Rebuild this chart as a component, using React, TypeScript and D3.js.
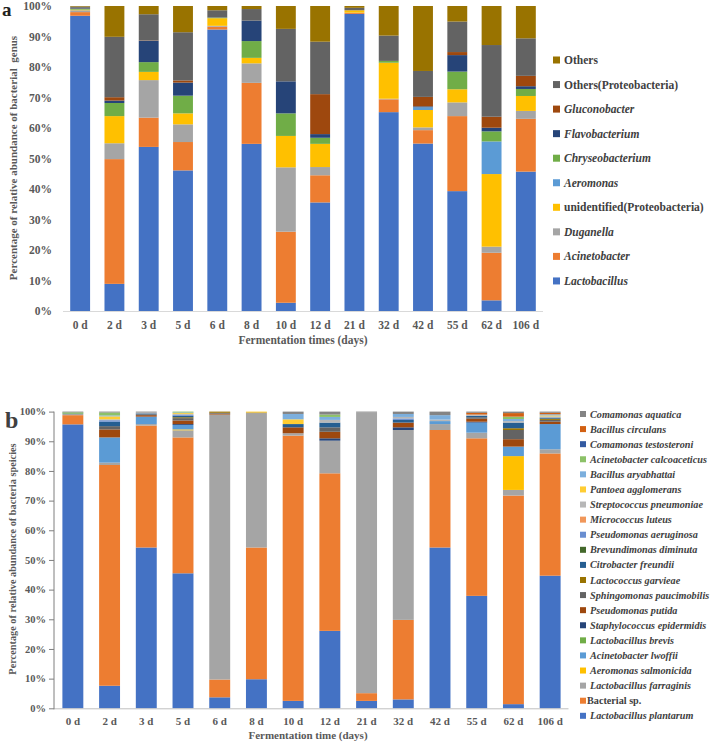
import React from "react";
import * as d3 from "d3";

const days = ["0 d", "2 d", "3 d", "5 d", "6 d", "8 d", "10 d", "12 d", "21 d", "32 d", "42 d", "55 d", "62 d", "106 d"];
const yTicks = [0, 10, 20, 30, 40, 50, 60, 70, 80, 90, 100];

// Panel a: genus level (bottom to top)
const genusNames = ["Lactobacillus", "Acinetobacter", "Duganella", "unidentified(Proteobacteria)", "Aeromonas", "Chryseobacterium", "Flavobacterium", "Gluconobacter", "Others(Proteobacteria)", "Others"];
const genusItalic = [true, true, true, false, true, true, true, true, false, false];
const genusColors = ["#4472C4", "#ED7D31", "#A5A5A5", "#FFC000", "#5B9BD5", "#70AD47", "#264478", "#9E480E", "#636363", "#997300"];
const gLactobacillus = [96.8, 8.9, 53.8, 46.1, 92.3, 54.8, 2.7, 35.6, 97.4, 65.2, 54.9, 39.3, 3.5, 45.7];
const gAcinetobacter = [1.2, 40.9, 9.6, 9.3, 0.9, 20.0, 23.3, 8.9, 0.3, 4.2, 4.4, 24.6, 15.6, 17.3];
const gDuganella = [0.6, 5.2, 12.3, 5.8, 0.3, 6.4, 21.1, 2.7, 0.1, 0.2, 0.9, 4.5, 2.0, 2.6];
const gUnidentified = [0.2, 8.9, 2.7, 3.6, 2.5, 1.8, 10.3, 7.6, 0.8, 11.8, 5.7, 4.3, 23.8, 4.9];
const gAeromonas = [0, 0, 0, 0, 0, 0, 0, 0, 0, 0, 0.9, 0, 10.7, 0];
const gChryseobacterium = [0.3, 4.3, 3.2, 5.8, 0.2, 5.5, 7.4, 2.0, 0, 0.6, 0, 5.8, 3.3, 2.3];
const gFlavobacterium = [0.2, 0.8, 7.0, 4.3, 0, 6.7, 10.5, 1.2, 0, 0, 0.3, 5.4, 1.2, 0.9];
const gGluconobacter = [0.1, 1.1, 0.1, 0.7, 0, 0, 0, 13.1, 0, 0, 3.1, 1.0, 3.6, 3.4];
const gOthersProteo = [0.4, 19.8, 8.6, 15.8, 2.4, 3.8, 17.2, 17.2, 0.8, 8.3, 8.5, 10.0, 23.5, 12.3];
const gOthers = [0.2, 10.1, 2.7, 8.6, 1.4, 1.0, 7.5, 11.7, 0.6, 9.7, 21.3, 5.1, 12.8, 10.6];
const genusSeries = [gLactobacillus, gAcinetobacter, gDuganella, gUnidentified, gAeromonas, gChryseobacterium, gFlavobacterium, gGluconobacter, gOthersProteo, gOthers];

// Panel b: species level (bottom to top)
const speciesNames = ["Lactobacillus plantarum", "Bacterial sp.", "Lactobacillus farraginis", "Aeromonas salmonicida", "Acinetobacter lwoffii", "Lactobacillus brevis", "Staphylococcus epidermidis", "Pseudomonas putida", "Sphingomonas paucimobilis", "Lactococcus garvieae", "Citrobacter freundii", "Brevundimonas diminuta", "Pseudomonas aeruginosa", "Micrococcus luteus", "Streptococcus pneumoniae", "Pantoea agglomerans", "Bacillus aryabhattai", "Acinetobacter calcoaceticus", "Comamonas testosteroni", "Bacillus circulans", "Comamonas aquatica"];
const speciesColors = ["#4472C4", "#ED7D31", "#A5A5A5", "#FFC000", "#5B9BD5", "#70AD47", "#264478", "#9E480E", "#636363", "#997300", "#255E91", "#43682B", "#698ED0", "#F1975A", "#B7B7B7", "#FFCD33", "#7CAFDD", "#8CC168", "#335AA1", "#D26012", "#848484"];
const sPlantarum = [95.7, 7.6, 54.2, 45.5, 3.7, 9.8, 2.5, 26.1, 2.5, 3.0, 54.2, 37.9, 1.4, 44.7];
const sBacterial = [3.1, 74.4, 41.1, 45.8, 6.0, 44.4, 89.4, 53.1, 2.6, 26.8, 39.6, 53.1, 70.3, 41.2];
const sFarraginis = [0.4, 0.8, 0.5, 2.4, 89.3, 45.3, 0.8, 11.0, 94.6, 64.0, 2.0, 1.9, 1.9, 1.4];
const sSalmonicida = [0, 0, 0, 0.3, 0, 0, 0, 0, 0, 0, 0, 0, 11.4, 0];
const sLwoffii = [0.1, 8.5, 2.5, 1.5, 0, 0, 0, 0, 0, 0, 1.0, 3.4, 3.2, 8.5];
const sBrevis = [0.3, 0, 0, 0, 0, 0, 0, 0, 0, 0, 0, 0, 0, 0];
const sStaph = [0, 0, 0, 0.3, 0, 0, 0, 0.8, 0, 0.9, 0, 0.3, 0, 0];
const sPutida = [0, 2.7, 0.5, 1.2, 0.3, 0, 2.0, 2.2, 0, 1.6, 0, 1.0, 2.5, 0.8];
const sSphingo = [0, 1.1, 0.3, 0.8, 0.3, 0, 0, 1.5, 0, 0, 0, 0.5, 3.1, 0.6];
const sLactococcus = [0, 0, 0, 0.3, 0.4, 0.2, 0, 0, 0, 0, 0, 0, 0.6, 0.4];
const sCitrobacter = [0, 1.5, 0.3, 0.5, 0, 0, 1.1, 1.6, 0, 0.9, 0, 0.5, 1.9, 0.4];
const sBrevundimonas = [0.1, 0, 0, 0, 0, 0, 0, 0, 0, 0, 0, 0, 0, 0];
const sAeruginosa = [0, 0.5, 0, 0.3, 0, 0, 0, 0, 0, 0.5, 0, 0, 0, 0];
const sMicrococcus = [0, 0, 0, 0, 0, 0, 0, 0, 0, 0, 0, 0, 0, 0];
const sStreptococcus = [0, 0.3, 0.3, 0.3, 0, 0, 0, 0.9, 0, 0.5, 0.5, 0.4, 0.5, 0.4];
const sPantoea = [0, 1.0, 0, 0.3, 0, 0.3, 1.6, 0, 0, 0, 0, 0, 0, 0.3];
const sAryabhattai = [0, 0.3, 0, 0.2, 0, 0, 1.8, 1.0, 0, 1.0, 1.5, 0, 0.7, 0.4];
const sCalcoaceticus = [0.1, 1.0, 0, 0.3, 0, 0, 0, 0.8, 0, 0, 0, 0, 0.8, 0];
const sTestosteroni = [0, 0, 0, 0, 0, 0, 0, 0, 0, 0, 0, 0, 0, 0];
const sCirculans = [0, 0, 0, 0, 0, 0, 0, 0, 0, 0, 0, 0.6, 1.2, 0.5];
const sAquatica = [0.2, 0.3, 0.3, 0, 0, 0, 0.8, 1.0, 0.3, 0.8, 1.2, 0.4, 0.5, 0.4];
const speciesSeries = [sPlantarum, sBacterial, sFarraginis, sSalmonicida, sLwoffii, sBrevis, sStaph, sPutida, sSphingo, sLactococcus, sCitrobacter, sBrevundimonas, sAeruginosa, sMicrococcus, sStreptococcus, sPantoea, sAryabhattai, sCalcoaceticus, sTestosteroni, sCirculans, sAquatica];

const FONT = "'Liberation Serif', 'Times New Roman', serif";
const GRAY = "#595959";

function buildStack(series: number[][], names: string[]) {
  const rows = days.map((d, i) => {
    const r: any = { day: d };
    names.forEach((n, k) => (r[n] = series[k][i]));
    return r;
  });
  return d3.stack<any>().keys(names)(rows);
}

function Bars({ stack, colors, x, y }: any) {
  return (
    <g>
      {stack.map((layer: any, k: number) => (
        <g key={k} fill={colors[k]}>
          {layer.map((seg: any, i: number) => {
            const y0 = y(Math.min(seg[0], 100));
            const y1 = y(Math.min(seg[1], 100));
            const h = y0 - y1;
            if (h <= 0) return null;
            return <rect key={i} x={x(seg.data.day)} y={y1} width={x.bandwidth()} height={h} />;
          })}
        </g>
      ))}
    </g>
  );
}

export default function App() {
  // Panel a
  const xa = d3.scaleBand<string>().domain(days).range([63, 543]).paddingInner(0.42).paddingOuter(0.21);
  const ya = d3.scaleLinear().domain([0, 100]).range([311, 6]);
  const stackA = buildStack(genusSeries, genusNames);

  // Panel b
  const xb = d3.scaleBand<string>().domain(days).range([54.5, 568.5]).paddingInner(0.43).paddingOuter(0.215);
  const yb = d3.scaleLinear().domain([0, 100]).range([708.3, 411.6]);
  const stackB = buildStack(speciesSeries, speciesNames);

  const legendA = genusNames.map((n, i) => ({ n, i })).reverse();
  const legendB = speciesNames.map((n, i) => ({ n, i })).reverse();

  return (
    <svg width={713} height={742} style={{ position: "absolute", left: 0, top: 0, background: "#fff" }} fontFamily={FONT}>
      <rect width={713} height={742} fill="#fff" />
      {/* Panel a */}
      <text x={2} y={16} fontSize={19} fontWeight="bold" fill="#222">a</text>
      <Bars stack={stackA} colors={genusColors} x={xa} y={ya} />
      <line x1={63} x2={543} y1={ya(0) + 0.5} y2={ya(0) + 0.5} stroke="#d9d9d9" strokeWidth={1} />
      {yTicks.map((t) => (
        <text key={t} x={52} y={ya(t)} dy="0.35em" textAnchor="end" fontSize={11.5} fontWeight="bold" fill={GRAY}>{t}%</text>
      ))}
      {days.map((d) => (
        <text key={d} x={(xa(d) as number) + xa.bandwidth() / 2} y={329} textAnchor="middle" fontSize={11.5} fontWeight="bold" fill={GRAY}>{d}</text>
      ))}
      <text x={303} y={344} textAnchor="middle" fontSize={11.5} fontWeight="bold" fill={GRAY}>Fermentation times (days)</text>
      <text transform="translate(17,158) rotate(-90)" textAnchor="middle" fontSize={11} fontWeight="bold" fill={GRAY} style={{ whiteSpace: "pre" }}>Percentage of relative abundance of bacterial  genus</text>
      {legendA.map(({ n, i }, j) => {
        const cy = 60 + j * 24.55;
        return (
          <g key={n}>
            <rect x={553} y={cy - 3.5} width={7} height={7} fill={genusColors[i]} />
            <text x={564} y={cy} dy="0.35em" fontSize={11.5} fontWeight="bold" fontStyle={genusItalic[i] ? "italic" : "normal"} fill="#404040">{n}</text>
          </g>
        );
      })}

      {/* Panel b */}
      <text x={5} y={428} fontSize={24} fontWeight="bold" fill="#404040">b</text>
      <Bars stack={stackB} colors={speciesColors} x={xb} y={yb} />
      <line x1={54} x2={568.5} y1={yb(0) + 0.5} y2={yb(0) + 0.5} stroke="#bfbfbf" strokeWidth={1} />
      <line x1={54} x2={54} y1={yb(100)} y2={yb(0) + 1} stroke="#7f7f7f" strokeWidth={1} />
      {yTicks.map((t) => (
        <g key={t}>
          <line x1={49} x2={54} y1={yb(t) + 0.5} y2={yb(t) + 0.5} stroke="#7f7f7f" strokeWidth={1} />
          <text x={46} y={yb(t)} dy="0.35em" textAnchor="end" fontSize={10.5} fontWeight="bold" fill={GRAY}>{t}%</text>
        </g>
      ))}
      {days.map((d) => (
        <text key={d} x={(xb(d) as number) + xb.bandwidth() / 2} y={725} textAnchor="middle" fontSize={11} fontWeight="bold" fill={GRAY}>{d}</text>
      ))}
      <text x={308} y={739} textAnchor="middle" fontSize={11} fontWeight="bold" fill={GRAY}>Fermentation time (days)</text>
      <text transform="translate(16,559) rotate(-90)" textAnchor="middle" fontSize={10.3} fontWeight="bold" fill={GRAY}>Percentage of relative abundance of bacteria speicies</text>
      {legendB.map(({ n, i }, j) => {
        const cy = 414 + j * 15.09;
        const plain = n === "Bacterial sp.";
        return (
          <g key={n}>
            <rect x={580} y={cy - 3} width={6} height={6} fill={speciesColors[i]} />
            <text x={plain ? 587 : 590} y={cy} dy="0.35em" fontSize={10.2} fontWeight="bold" fontStyle={plain ? "normal" : "italic"} fill="#404040">{n}</text>
          </g>
        );
      })}
    </svg>
  );
}
